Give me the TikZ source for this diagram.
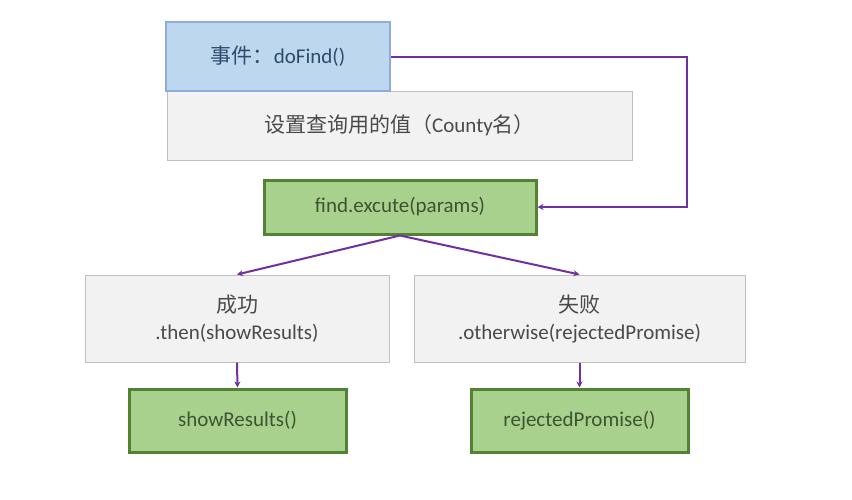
\documentclass[tikz,border=0pt]{standalone}
\usepackage{fontspec}
\setmainfont{Carlito}
\newfontfamily\cjk{Noto Sans CJK SC}
\usetikzlibrary{arrows.meta}
\definecolor{bluefill}{HTML}{BDD7EE}
\definecolor{blueline}{HTML}{8FAADC}
\definecolor{bluetext}{HTML}{2E4A6B}
\definecolor{grayfill}{HTML}{F2F2F2}
\definecolor{grayline}{HTML}{BFBFBF}
\definecolor{graytext}{HTML}{4A4A4A}
\definecolor{greenfill}{HTML}{A9D18E}
\definecolor{greenline}{HTML}{548235}
\definecolor{greentext}{HTML}{3F5330}
\definecolor{arrowcol}{HTML}{7030A0}
\tikzset{
  box/.style={rectangle, inner sep=0pt, align=center},
  bluebox/.style={box, fill=bluefill, draw=blueline, line width=2.5pt, text=bluetext},
  graybox/.style={box, fill=grayfill, draw=grayline, line width=1pt, text=graytext},
  greenbox/.style={box, fill=greenfill, draw=greenline, line width=3pt, text=greentext},
  arr/.style={draw=arrowcol, line width=2pt, -{Stealth[length=6pt,width=6pt]}}
}
\begin{document}
\begin{tikzpicture}[x=1pt,y=-1pt,font=\fontsize{21}{27}\selectfont]
\useasboundingbox (0,0) rectangle (852,499);
\fill[white] (0,0) rectangle (852,499);
\node[graybox, minimum width=465pt, minimum height=69pt] (setv) at (399.5,125.5) {{\cjk 设置查询用的值（}County{\cjk 名）}};
\node[bluebox, minimum width=224pt, minimum height=69pt] (event) at (278,56.5) {{\cjk 事件：}doFind()};
\node[greenbox, minimum width=272pt, minimum height=54pt] (find) at (400,207) {find.excute(params)};
\node[graybox, minimum width=304pt, minimum height=87pt] (ok) at (237,318.5) {{\cjk 成功}\\.then(showResults)};
\node[graybox, minimum width=331pt, minimum height=87pt] (fail) at (579.5,318.5) {{\cjk 失败}\\.otherwise(rejectedPromise)};
\node[greenbox, minimum width=217pt, minimum height=63pt] (show) at (237.5,420.5) {showResults()};
\node[greenbox, minimum width=217pt, minimum height=63pt] (rej) at (579.5,420.5) {rejectedPromise()};
\coordinate (turn) at (687,56.5);
\draw[arr] (event.east) -- (turn) |- (find.east);
\draw[arr] (find.south) -- (ok.north);
\draw[arr] (find.south) -- (fail.north);
\draw[arr] (ok.south) -- (show.north);
\draw[arr] (fail.south) -- (rej.north);
\end{tikzpicture}
\end{document}
